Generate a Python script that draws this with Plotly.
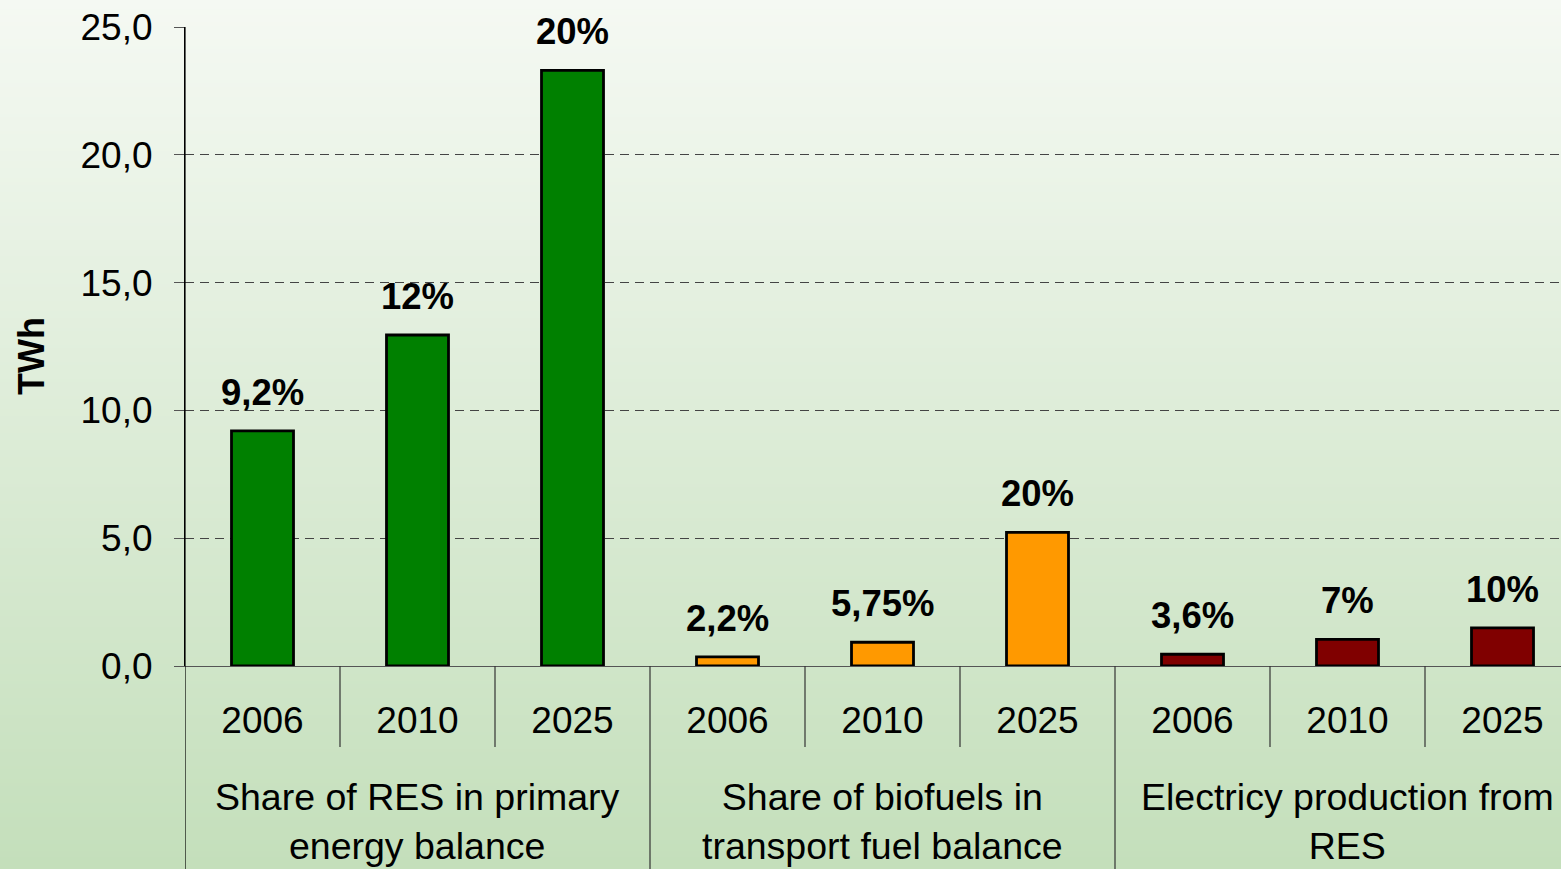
import zlib, struct, base64
import plotly.graph_objects as go

# ---------------- data ----------------
groups = ["Share of RES in primary<br>energy balance",
          "Share of biofuels in<br>transport fuel balance",
          "Electricy production from<br>RES"]
years = ["2006", "2010", "2025"]
res_primary = [9.2, 12.95, 23.3]
biofuels = [0.36, 0.93, 5.23]
electricity = [0.46, 1.04, 1.49]
res_labels = ["9,2%", "12%", "20%"]
bio_labels = ["2,2%", "5,75%", "20%"]
ele_labels = ["3,6%", "7%", "10%"]
y_ticks = [0, 5, 10, 15, 20, 25]

series = [res_primary, biofuels, electricity]
labels = [res_labels, bio_labels, ele_labels]
colors = ["#008000", "#FF9900", "#800000"]

FONT = "Liberation Sans, Arial, Helvetica, sans-serif"
W, H = 1561, 869
L, R, T, B = 185, 0, 27, 203
PW, PH = W - L - R, H - T - B


def png_gradient(top, bottom, h=256):
    raw = b""
    for i in range(h):
        t = i / (h - 1)
        raw += b"\x00" + bytes(round(top[k] + (bottom[k] - top[k]) * t) for k in range(3))

    def chunk(tag, data):
        return (struct.pack(">I", len(data)) + tag + data
                + struct.pack(">I", zlib.crc32(tag + data) & 0xffffffff))

    png = (b"\x89PNG\r\n\x1a\n"
           + chunk(b"IHDR", struct.pack(">IIBBBBB", 1, h, 8, 2, 0, 0, 0))
           + chunk(b"IDAT", zlib.compress(raw))
           + chunk(b"IEND", b""))
    return "data:image/png;base64," + base64.b64encode(png).decode()


fig = go.Figure()

for gi, (vals, col) in enumerate(zip(series, colors)):
    xs = [gi * len(years) + j for j in range(len(years))]
    fig.add_trace(go.Bar(
        x=xs, y=vals, width=0.4,
        marker=dict(color=col, line=dict(color="black", width=2.8)),
        showlegend=False, hoverinfo="y",
    ))
    for x, v, lab in zip(xs, vals, labels[gi]):
        fig.add_annotation(x=x, y=v, text=f"<b>{lab}</b>", showarrow=False,
                           xref="x", yref="y", yanchor="bottom", yshift=16,
                           font=dict(family=FONT, size=36.5, color="black"))

n = len(groups) * len(years)
tickvals = list(range(n))
ticktext = years * len(groups)

# separators below the axis
shapes = []
sep_small = -81 / PH
sep_big = -(H - T - PH) / PH - 0.01
for i in range(n - 1):
    pos = i + 0.5
    big = (i + 1) % len(years) == 0
    shapes.append(dict(type="line", xref="x", yref="paper", x0=pos, x1=pos,
                       y0=0, y1=sep_big if big else sep_small,
                       line=dict(color="#333333", width=1.2)))
shapes.append(dict(type="line", xref="x", yref="paper", x0=-0.5, x1=-0.5,
                   y0=sep_big, y1=1, line=dict(color="black", width=1.2)))

for gi, g in enumerate(groups):
    fig.add_annotation(x=gi * len(years) + 1, y=-155 / PH, xref="x", yref="paper",
                       text=g, showarrow=False, yanchor="middle",
                       font=dict(family=FONT, size=37.5, color="black"))

# y-axis title
fig.add_annotation(x=-154 / PW, y=(PH + T - 356) / PH, xref="paper", yref="paper",
                   text="<b>TWh</b>", textangle=-90, showarrow=False,
                   xanchor="center", yanchor="middle",
                   font=dict(family=FONT, size=36, color="black"))

fig.update_layout(
    width=W, height=H,
    margin=dict(l=L, r=R, t=T, b=B),
    paper_bgcolor="rgba(0,0,0,0)",
    plot_bgcolor="rgba(0,0,0,0)",
    separators=",.",
    shapes=shapes,
    images=[dict(source=png_gradient((245, 249, 243), (196, 223, 187)),
                 xref="paper", yref="paper",
                 x=-L / PW, y=1 + T / PH, sizex=W / PW, sizey=H / PH,
                 sizing="stretch", xanchor="left", yanchor="top",
                 layer="below")],
    xaxis=dict(
        range=[-0.5, -0.5 + PW / 155.0],
        tickvals=tickvals, ticktext=ticktext,
        showgrid=False, zeroline=False, ticks="",
        showline=True, linecolor="#555555", linewidth=1.2,
        ticklabelstandoff=21,
        tickfont=dict(family=FONT, size=37, color="black"),
    ),
    yaxis=dict(
        range=[0, 25], tickvals=y_ticks, tickformat=".1f",
        showgrid=True, gridcolor="#444444", gridwidth=1, griddash="9px,6px",
        zeroline=False, showline=True, linecolor="black", linewidth=1.2,
        ticks="outside", ticklen=10, tickcolor="#555555",
        ticklabelstandoff=14,
        tickfont=dict(family=FONT, size=37, color="black"),
    ),
    bargap=0.6,
)

fig.write_html("out.html", config={"displayModeBar": False},
               post_script="document.body.style.margin='0';document.body.style.overflow='hidden';")
